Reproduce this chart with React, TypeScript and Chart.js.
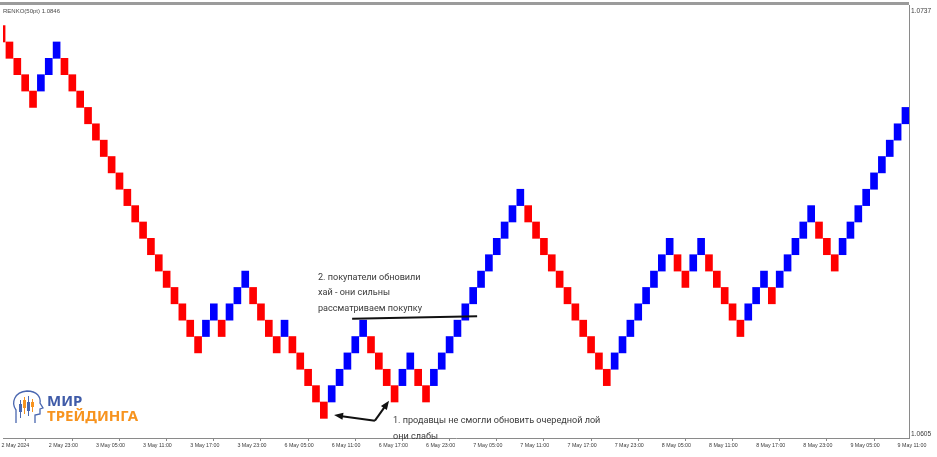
import React, { useEffect, useRef } from "react";
import { Chart, registerables } from "chart.js";

Chart.register(...registerables);

// ---- data ----
const BRICK = 0.0005; // 50pt renko brick
const titleText = "RENKO(50pt) 1.0846";
const priceTop = 1.0737;
const priceBottom = 1.0605;

// lower price of each brick, left to right
const brickLow = [
  1.0726, 1.0721, 1.0716, 1.0711, 1.0706, 1.0711, 1.0716, 1.0721, 1.0716, 1.0711,
  1.0706, 1.0701, 1.0696, 1.0691, 1.0686, 1.0681, 1.0676, 1.0671, 1.0666, 1.0661,
  1.0656, 1.0651, 1.0646, 1.0641, 1.0636, 1.0631, 1.0636, 1.0641, 1.0636, 1.0641,
  1.0646, 1.0651, 1.0646, 1.0641, 1.0636, 1.0631, 1.0636, 1.0631, 1.0626, 1.0621,
  1.0616, 1.0611, 1.0616, 1.0621, 1.0626, 1.0631, 1.0636, 1.0631, 1.0626, 1.0621,
  1.0616, 1.0621, 1.0626, 1.0621, 1.0616, 1.0621, 1.0626, 1.0631, 1.0636, 1.0641,
  1.0646, 1.0651, 1.0656, 1.0661, 1.0666, 1.0671, 1.0676, 1.0671, 1.0666, 1.0661,
  1.0656, 1.0651, 1.0646, 1.0641, 1.0636, 1.0631, 1.0626, 1.0621, 1.0626, 1.0631,
  1.0636, 1.0641, 1.0646, 1.0651, 1.0656, 1.0661, 1.0656, 1.0651, 1.0656, 1.0661,
  1.0656, 1.0651, 1.0646, 1.0641, 1.0636, 1.0641, 1.0646, 1.0651, 1.0646, 1.0651,
  1.0656, 1.0661, 1.0666, 1.0671, 1.0666, 1.0661, 1.0656, 1.0661, 1.0666, 1.0671,
  1.0676, 1.0681, 1.0686, 1.0691, 1.0696, 1.0701,
];

// direction of each brick: u = up (blue), d = down (red)
const brickDir = (
  "ddddd uuu dddddddddddddddddd uu d uuu dddd u ddddd uuuuu dddd uu dd " +
  "uuuuuuuuuuuu ddddddddddd uuuuuuuu dd uu ddddd uuu d uuuuu ddd uuuuuuuuu"
)
  .replace(/ /g, "")
  .split("");

// time axis labels, one every 6 bricks
const BRICKS_PER_LABEL = 6;
const timeLabels = [
  "2 May 2024", "2 May 23:00", "3 May 05:00", "3 May 11:00", "3 May 17:00",
  "3 May 23:00", "6 May 05:00", "6 May 11:00", "6 May 17:00", "6 May 23:00",
  "7 May 05:00", "7 May 11:00", "7 May 17:00", "7 May 23:00", "8 May 05:00",
  "8 May 11:00", "8 May 17:00", "8 May 23:00", "9 May 05:00", "9 May 11:00",
];

// annotations (brick index / price anchors)
const note2Lines = ["2. покупатели обновили", "хай - они сильны", "рассматриваем покупку"];
const note2Anchor = { x: 40.25, y: 1.06541 };
const note1Lines = ["1. продавцы не смогли обновить очередной лой", "они слабы"];
const note1Anchor = { x: 49.8, y: 1.06103 };
const levelLine = { x1: 44.6, y1: 1.06414, x2: 60.5, y2: 1.06422 };
const arrowVertex = { x: 47.5, y: 1.06103 };
const arrowTips = [
  { x: 42.3, y: 1.0612 },
  { x: 49.3, y: 1.06164 },
];
const logoTop = "МИР";
const logoBottom = "ТРЕЙДИНГА";

const RED = "#ff0000";
const BLUE = "#0000ff";
const AXIS = "#8a8a8a";
const TXT = "#3a3a3a";
const NOTE_FONT = "9.1px Roboto, 'Noto Sans', sans-serif";

function arrowHead(ctx: CanvasRenderingContext2D, fx: number, fy: number, tx: number, ty: number) {
  const ang = Math.atan2(ty - fy, tx - fx);
  const len = 9;
  const w = 3.6;
  ctx.beginPath();
  ctx.moveTo(tx, ty);
  ctx.lineTo(tx - len * Math.cos(ang) + w * Math.sin(ang), ty - len * Math.sin(ang) - w * Math.cos(ang));
  ctx.lineTo(tx - len * Math.cos(ang) - w * Math.sin(ang), ty - len * Math.sin(ang) + w * Math.cos(ang));
  ctx.closePath();
  ctx.fill();
}

const overlayPlugin = {
  id: "overlay",
  beforeDraw(chart: any) {
    const ys = chart.scales.y;
    const items = ys.getLabelItems(chart.chartArea);
    items.forEach((it: any, k: number) => {
      const v = ys.ticks[k]?.value;
      if (v === priceTop) it.options.translation[1] += 5.5;
      else if (v === priceBottom) it.options.translation[1] -= 3.5;
    });
  },
  afterDraw(chart: any) {
    const ctx: CanvasRenderingContext2D = chart.ctx;
    const xs = chart.scales.x;
    const ys = chart.scales.y;
    const ca = chart.chartArea;
    const px = (v: number) => xs.getPixelForValue(v);
    const py = (v: number) => ys.getPixelForValue(v);
    ctx.save();

    // top frame band
    ctx.fillStyle = "#9b9b9b";
    ctx.fillRect(0, 2, ca.right, 3);

    // title
    ctx.fillStyle = "#4a4a4a";
    ctx.font = "6px 'Liberation Sans', Arial, sans-serif";
    ctx.textBaseline = "middle";
    ctx.textAlign = "left";
    ctx.fillText(titleText, 3, 11);

    // level line
    ctx.strokeStyle = "#111";
    ctx.lineWidth = 2;
    ctx.beginPath();
    ctx.moveTo(px(levelLine.x1), py(levelLine.y1));
    ctx.lineTo(px(levelLine.x2), py(levelLine.y2));
    ctx.stroke();

    // arrows
    ctx.fillStyle = "#111";
    const vx = px(arrowVertex.x);
    const vy = py(arrowVertex.y);
    arrowTips.forEach((t) => {
      const tx = px(t.x);
      const ty = py(t.y);
      const ang = Math.atan2(ty - vy, tx - vx);
      ctx.beginPath();
      ctx.moveTo(vx, vy);
      ctx.lineTo(tx - 6 * Math.cos(ang), ty - 6 * Math.sin(ang));
      ctx.stroke();
      arrowHead(ctx, vx, vy, tx, ty);
    });

    // notes
    ctx.fillStyle = TXT;
    ctx.font = NOTE_FONT;
    ctx.textBaseline = "middle";
    note2Lines.forEach((s, k) => ctx.fillText(s, px(note2Anchor.x), py(note2Anchor.y) + k * 15.8));
    note1Lines.forEach((s, k) => ctx.fillText(s, px(note1Anchor.x), py(note1Anchor.y) + k * 16));

    // logo
    ctx.lineWidth = 1.3;
    ctx.strokeStyle = "#4a67b0";
    ctx.beginPath();
    ctx.moveTo(16, 423);
    ctx.lineTo(16, 410);
    ctx.bezierCurveTo(11, 403, 14, 392, 27, 391);
    ctx.bezierCurveTo(37, 391, 41, 397, 40, 403);
    ctx.lineTo(43, 408);
    ctx.lineTo(40, 409);
    ctx.lineTo(40, 414);
    ctx.lineTo(35, 415);
    ctx.lineTo(35, 423);
    ctx.stroke();
    const candles = [
      { x: 20, y1: 400, y2: 418, b1: 404, b2: 412, c: "#4a67b0" },
      { x: 24, y1: 397, y2: 414, b1: 400, b2: 408, c: "#f7931e" },
      { x: 28, y1: 396, y2: 416, b1: 402, b2: 411, c: "#4a67b0" },
      { x: 32, y1: 399, y2: 412, b1: 402, b2: 407, c: "#f7931e" },
    ];
    candles.forEach((cd) => {
      ctx.strokeStyle = cd.c;
      ctx.lineWidth = 1;
      ctx.beginPath();
      ctx.moveTo(cd.x + 0.5, cd.y1);
      ctx.lineTo(cd.x + 0.5, cd.y2);
      ctx.stroke();
      ctx.fillStyle = cd.c;
      ctx.fillRect(cd.x - 1, cd.b1, 3, cd.b2 - cd.b1);
    });
    ctx.font = "bold 15px 'Noto Sans', 'DejaVu Sans', sans-serif";
    ctx.textBaseline = "alphabetic";
    ctx.fillStyle = "#3f5ba8";
    ctx.fillText(logoTop, 47, 405.5);
    ctx.fillStyle = "#f7931e";
    ctx.fillText(logoBottom, 47, 421);

    ctx.restore();
  },
};

export default function App() {
  const ref = useRef<HTMLCanvasElement | null>(null);

  useEffect(() => {
    document.body.style.margin = "0";
    const canvas = ref.current;
    if (!canvas) return;
    const data = brickLow.map((lo, i) => ({ x: i, y: [lo, +(lo + BRICK).toFixed(5)] }));
    const colors = brickDir.map((d) => (d === "u" ? BLUE : RED));
    const chart = new Chart(canvas, {
      type: "bar",
      data: {
        datasets: [
          {
            data: data as any,
            backgroundColor: colors,
            borderWidth: 0,
            barThickness: 7,
          },
        ],
      },
      options: {
        responsive: false,
        animation: false,
        layout: { padding: { left: 3, top: 5, right: 0, bottom: 0 } },
        plugins: { legend: { display: false }, tooltip: { enabled: false } },
        scales: {
          x: {
            type: "linear",
            min: 0.18,
            max: 115.45,
            offset: false,
            grid: { display: true, drawOnChartArea: false, drawTicks: true, tickLength: 3, color: AXIS },
            border: { display: true, color: AXIS },
            afterBuildTicks: (s: any) => {
              s.ticks = timeLabels.map((_, k) => ({ value: k * BRICKS_PER_LABEL }));
            },
            afterFit: (s: any) => {
              s.height = 19;
            },
            ticks: {
              autoSkip: false,
              maxRotation: 0,
              minRotation: 0,
              align: "start",
              padding: 1,
              color: TXT,
              font: { family: "'Liberation Sans', Arial, sans-serif", size: 5.3 },
              callback: (v: any) => timeLabels[Math.round(Number(v) / BRICKS_PER_LABEL)] ?? "",
            },
          },
          y: {
            position: "right",
            min: priceBottom,
            max: priceTop,
            grid: { display: false, drawTicks: false },
            border: { display: true, color: AXIS },
            afterBuildTicks: (s: any) => {
              s.ticks = [{ value: priceBottom }, { value: priceTop }];
            },
            afterFit: (s: any) => {
              s.width = 28;
            },
            ticks: {
              padding: 2,
              color: TXT,
              font: { family: "'Liberation Sans', Arial, sans-serif", size: 6.6 },
              callback: (v: any) => Number(v).toFixed(4),
            },
          },
        },
      } as any,
      plugins: [overlayPlugin],
    });
    return () => chart.destroy();
  }, []);

  return (
    <div style={{ width: 937, height: 457, background: "#fff" }}>
      <canvas ref={ref} width={937} height={457} style={{ display: "block" }} />
    </div>
  );
}
